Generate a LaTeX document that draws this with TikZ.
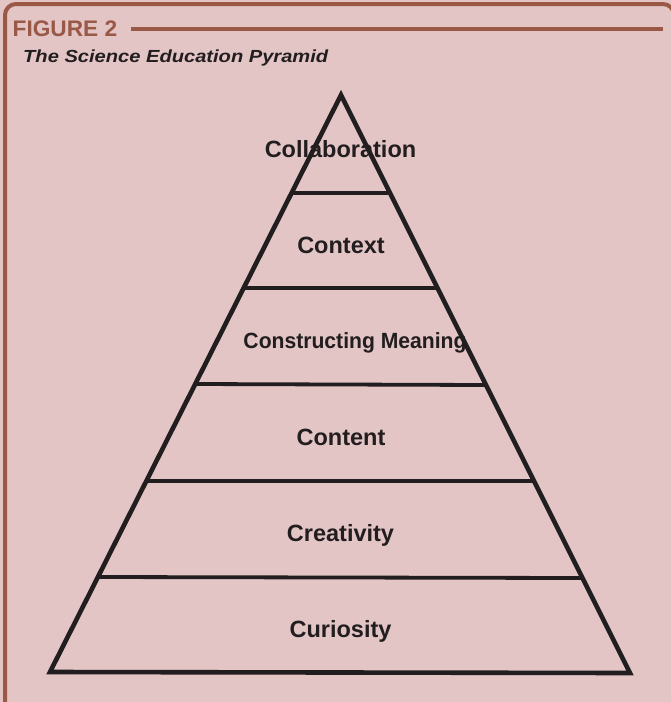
\documentclass[tikz,border=0pt]{standalone}
\usepackage{fontspec}
\usepackage{graphicx}
\setmainfont{Liberation Sans}
\definecolor{bgpink}{HTML}{E3C5C6}
\definecolor{framebrown}{HTML}{9A5847}
\definecolor{inkdark}{HTML}{221D1E}
\tikzset{
  tier/.style={draw=inkdark, line width=3.8pt},
  tierlabel/.style={font=\fontsize{23.5}{26}\selectfont\bfseries, text=inkdark, inner sep=0pt, anchor=base},
}
\begin{document}
\begin{tikzpicture}[x=1pt,y=-1pt]
\useasboundingbox (0,0) rectangle (671,702);
\fill[bgpink] (0,0) rectangle (671,702);
\begin{scope}
\clip (0,0) rectangle (671,702);
\draw[framebrown, line width=4pt, rounded corners=11pt] (5,4) rectangle (674,712);
\end{scope}
% title
\node[anchor=base west, inner sep=0pt, text=framebrown, font=\fontsize{22.5}{26}\selectfont\bfseries] (fig) at (12.5,36.7) {\resizebox{104.5pt}{\height}{FIGURE 2}};
\coordinate (lineend) at (663,29);
\draw[framebrown, line width=4pt] (131,29) -- (lineend);
\node[anchor=base west, inner sep=0pt, text=inkdark, font=\fontsize{17.5}{21}\selectfont\bfseries\itshape] (sub) at (23,62.5) {\resizebox{305pt}{\height}{The Science Education Pyramid}};
% pyramid
\coordinate (apex) at (341,95);
\coordinate (bl) at (50,672);
\coordinate (br) at (630,673);
\draw[inkdark, line width=4.6pt, line join=miter] (apex) -- (bl) -- (br) -- cycle;
\coordinate (a1) at (292,193); \coordinate (b1) at (388,193);
\coordinate (a2) at (244,288); \coordinate (b2) at (436,288);
\coordinate (a3) at (196,384); \coordinate (b3) at (485,385);
\coordinate (a4) at (147,481); \coordinate (b4) at (533,481);
\coordinate (a5) at (99,577); \coordinate (b5) at (582,578);
\draw[tier] (a1) -- (b1);
\draw[tier] (a2) -- (b2);
\draw[tier] (a3) -- (b3);
\draw[tier] (a4) -- (b4);
\draw[tier] (a5) -- (b5);
\node[tierlabel] (l1) at (340.5,157) {Collaboration};
\node[tierlabel] (l2) at (341,253) {Context};
\node[tierlabel, font=\fontsize{22}{26}\selectfont\bfseries] (l3) at (355,348.5) {\resizebox{223pt}{\height}{Constructing Meaning}};
\node[tierlabel] (l4) at (341,445) {Content};
\node[tierlabel] (l5) at (340.5,541) {Creativity};
\node[tierlabel] (l6) at (340.5,637) {Curiosity};
\end{tikzpicture}
\end{document}
